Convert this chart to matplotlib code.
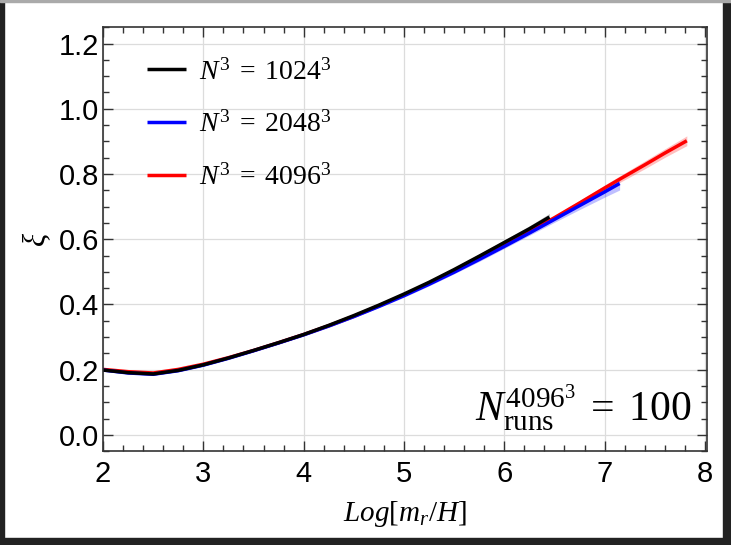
import matplotlib
matplotlib.use("Agg")
import matplotlib.pyplot as plt
from matplotlib.patches import Rectangle
from matplotlib.ticker import MultipleLocator
import numpy as np

plt.rcParams["mathtext.fontset"] = "custom"
plt.rcParams["mathtext.rm"] = "Liberation Serif"
plt.rcParams["mathtext.it"] = "Liberation Serif:italic"
plt.rcParams["mathtext.bf"] = "Liberation Serif:bold"
plt.rcParams["mathtext.default"] = "it"
plt.rcParams["font.family"] = ["Liberation Sans", "DejaVu Sans"]

# log(m_r/H) samples and correlation length xi for each lattice size
x_1024 = [2.0, 2.25, 2.5, 2.75, 3.0, 3.25, 3.5, 3.75, 4.0, 4.25, 4.5, 4.75,
          5.0, 5.25, 5.5, 5.75, 6.0, 6.25, 6.45]
xi_1024 = [0.199, 0.191, 0.187, 0.198, 0.215, 0.236, 0.259, 0.283, 0.308, 0.336,
           0.366, 0.398, 0.432, 0.468, 0.507, 0.548, 0.590, 0.632, 0.668]
err_1024 = [0.003, 0.003, 0.003, 0.003, 0.003, 0.003, 0.003, 0.004, 0.004, 0.004,
            0.004, 0.005, 0.005, 0.006, 0.006, 0.007, 0.008, 0.009, 0.011]

x_2048 = [2.0, 2.25, 2.5, 2.75, 3.0, 3.25, 3.5, 3.75, 4.0, 4.25, 4.5, 4.75,
          5.0, 5.25, 5.5, 5.75, 6.0, 6.25, 6.5, 6.75, 7.0, 7.15]
xi_2048 = [0.199, 0.190, 0.186, 0.197, 0.214, 0.235, 0.258, 0.282, 0.307, 0.334,
           0.363, 0.394, 0.427, 0.462, 0.499, 0.538, 0.578, 0.619, 0.661, 0.703,
           0.745, 0.771]
err_2048 = [0.003, 0.003, 0.003, 0.003, 0.003, 0.003, 0.003, 0.003, 0.004, 0.004,
            0.004, 0.004, 0.005, 0.005, 0.005, 0.006, 0.006, 0.007, 0.009, 0.012,
            0.016, 0.020]

x_4096 = [2.0, 2.25, 2.5, 2.75, 3.0, 3.25, 3.5, 3.75, 4.0, 4.25, 4.5, 4.75,
          5.0, 5.25, 5.5, 5.75, 6.0, 6.25, 6.5, 6.75, 7.0, 7.15, 7.4, 7.6, 7.82]
xi_4096 = [0.201, 0.194, 0.190, 0.201, 0.217, 0.237, 0.259, 0.283, 0.308, 0.335,
           0.364, 0.396, 0.429, 0.465, 0.503, 0.542, 0.582, 0.623, 0.666, 0.711,
           0.757, 0.784, 0.828, 0.864, 0.902]
err_4096 = [0.003, 0.003, 0.003, 0.003, 0.003, 0.003, 0.003, 0.003, 0.003, 0.004,
            0.004, 0.004, 0.004, 0.005, 0.005, 0.005, 0.006, 0.006, 0.007, 0.008,
            0.009, 0.010, 0.012, 0.013, 0.015]

series = [
    (x_4096, xi_4096, err_4096, "#ff0000", r"$N^3\;=\;4096^3$"),
    (x_2048, xi_2048, err_2048, "#0000ff", r"$N^3\;=\;2048^3$"),
    (x_1024, xi_1024, err_1024, "#000000", r"$N^3\;=\;1024^3$"),
]

fig = plt.figure(figsize=(7.31, 5.45), dpi=100)
ax = fig.add_axes([0.141, 0.172, 0.826, 0.778])

handles = {}
for x, y, e, c, lab in series:
    x = np.array(x); y = np.array(y); e = np.array(e)
    ax.fill_between(x, y - e, y + e, color=c, alpha=0.25, lw=0)
    ln, = ax.plot(x, y, color=c, lw=2.5, label=lab, solid_capstyle="butt")
    handles[c] = ln

ax.set_xlim(2, 8.02)
ax.set_ylim(-0.05, 1.25)
ax.xaxis.set_major_locator(MultipleLocator(1))
ax.xaxis.set_minor_locator(MultipleLocator(0.2))
ax.yaxis.set_major_locator(MultipleLocator(0.2))
ax.yaxis.set_minor_locator(MultipleLocator(0.05))
ax.tick_params(which="both", direction="in", top=True, right=True,
               color="#333333", width=1.0)
ax.tick_params(which="major", length=7, labelsize=21)
ax.tick_params(axis="x", which="major", pad=6)
ax.tick_params(axis="y", which="major", pad=3)
ax.tick_params(which="minor", length=4)
ax.grid(True, which="major", color="#dcdcdc", lw=0.9)
ax.set_axisbelow(True)
for s in ax.spines.values():
    s.set_color("#333333")
    s.set_linewidth(1.2)

ax.set_xlabel(r"$Log[m_r/H]$", fontsize=21, labelpad=8)
ax.set_ylabel(r"$\xi$", fontsize=22, labelpad=4)

order = [handles["#000000"], handles["#0000ff"], handles["#ff0000"]]
ax.legend(handles=order, loc="upper left", bbox_to_anchor=(0.032, 0.985),
          frameon=False, fontsize=20, handlelength=1.4, handletextpad=0.45,
          labelspacing=0.95)

ax.text(0.975, 0.071,
        r"$N_{\mathrm{runs}}^{\mathrm{4096}^{\mathrm{3}}}\;\mathrm{=}\;\mathrm{100}$",
        transform=ax.transAxes, ha="right", va="baseline", fontsize=30)

# screenshot frame around the figure
for r in [(0, 0, 4 / 731, 1), (723 / 731, 0, 8 / 731, 1), (0, 0, 1, 7 / 545)]:
    fig.patches.append(Rectangle(r[:2], r[2], r[3], transform=fig.transFigure,
                                 color="#222222", zorder=10))
fig.patches.append(Rectangle((0, 1 - 2 / 545), 1, 2 / 545, transform=fig.transFigure,
                             color="#aaaaaa", zorder=10))

fig.savefig("out.png", dpi=100)
